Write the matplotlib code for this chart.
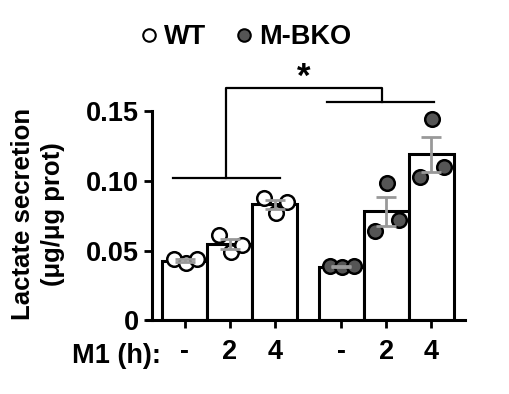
import matplotlib
matplotlib.use('Agg')
import matplotlib.pyplot as plt
from matplotlib.lines import Line2D
import numpy as np

plt.rcParams['font.family'] = ['Liberation Sans', 'DejaVu Sans']
plt.rcParams['font.weight'] = 'bold'

# Data
groups = ['WT', 'M-BKO']
times = ['-', '2', '4']
wt_points = [[0.0437, 0.0408, 0.0437],
             [0.061, 0.049, 0.054],
             [0.0875, 0.0767, 0.0851]]
ko_points = [[0.0387, 0.0378, 0.0387],
             [0.0643, 0.0988, 0.072],
             [0.1031, 0.1444, 0.1098]]
jitter = [-0.25, 0.02, 0.27]

fig = plt.figure(figsize=(5.09, 3.94), dpi=100)
ax = fig.add_axes([0.288, 0.1878, 0.625, 0.6527])

pos_wt = np.arange(3)
pos_ko = np.arange(3) + 3.48
positions = np.concatenate([pos_wt, pos_ko])
all_points = wt_points + ko_points
fills = ['white'] * 3 + ['#555555'] * 3

for x, pts, fc in zip(positions, all_points, fills):
    pts = np.array(pts)
    m = pts.mean()
    sem = pts.std(ddof=1) / np.sqrt(len(pts))
    ax.bar(x, m, width=1.0, color='white', edgecolor='black', linewidth=2.2, zorder=1)
    ax.plot(x + np.array(jitter), pts, 'o', ms=10.5, mfc=fc, mec='black', mew=1.8,
            zorder=2, clip_on=False)
    ax.errorbar(x, m, yerr=sem, color='#999999', capsize=7, capthick=2, elinewidth=2,
                zorder=3)

ax.set_xlim(-0.851, 6.22)
ax.set_ylim(0, 0.185)
ax.set_yticks([0, 0.05, 0.10, 0.15])
ax.set_yticklabels(['0', '0.05', '0.10', '0.15'])
ax.set_xticks(positions)
ax.set_xticklabels(times + times)
ax.tick_params(axis='both', width=2, length=6, labelsize=19.5)
ax.tick_params(axis='y', pad=3)
ax.tick_params(axis='x', pad=8)
for s in ['top', 'right']:
    ax.spines[s].set_visible(False)
ax.spines['left'].set_bounds(0, 0.15)
ax.spines['left'].set_position(('data', -0.74))
ax.spines['left'].set_linewidth(2.2)
ax.spines['bottom'].set_linewidth(2.2)

# significance bracket
lw = 1.6
ax.plot([-0.27, 2.11], [0.102, 0.102], color='black', lw=lw, clip_on=False)
ax.plot([3.17, 5.54], [0.1566, 0.1566], color='black', lw=lw, clip_on=False)
ax.plot([0.91, 0.91, 4.39, 4.39], [0.102, 0.167, 0.167, 0.1566], color='black',
        lw=lw, clip_on=False)
ax.text(2.64, 0.1625, '*', ha='center', va='bottom', fontsize=25, fontweight='bold')

fig.text(0.075, 0.457, 'Lactate secretion\n(μg/μg prot)', rotation=90, ha='center',
         va='center', fontsize=18.5, fontweight='bold', linespacing=1.3)
fig.text(0.316, 0.097, 'M1 (h):', ha='right', va='center', fontsize=19.5, fontweight='bold')

handles = [Line2D([], [], marker='o', ls='', ms=9, mfc=fc, mec='black', mew=1.5)
           for fc in ['white', '#555555']]
ax.legend(handles, groups, loc='center', bbox_to_anchor=(0.478, 0.905),
          bbox_transform=fig.transFigure, ncol=2, frameon=False, fontsize=19.5,
          handletextpad=0.05, columnspacing=0.9, handlelength=1.0)

fig.savefig('out.png', dpi=100)
